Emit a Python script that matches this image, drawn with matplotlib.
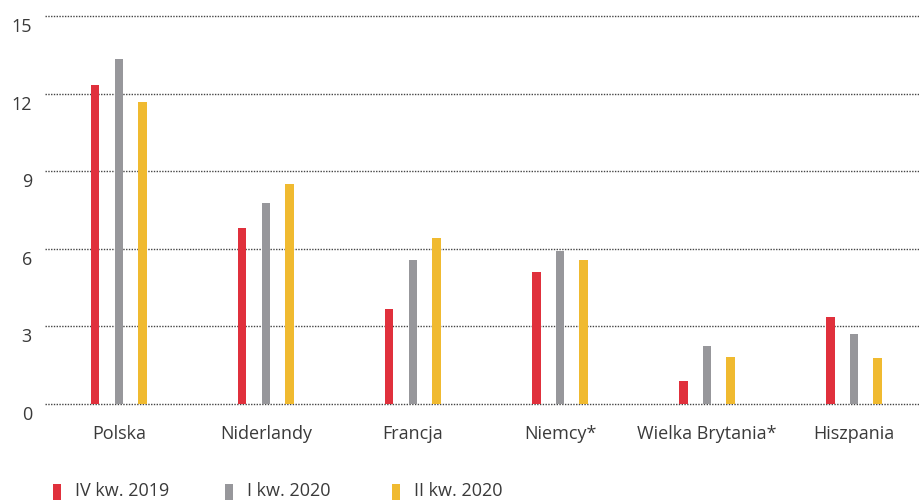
import matplotlib
matplotlib.use("Agg")
import matplotlib.pyplot as plt
from matplotlib.patches import Rectangle
from matplotlib.transforms import ScaledTranslation
import numpy as np

categories = ["Polska", "Niderlandy", "Francja", "Niemcy*", "Wielka Brytania*", "Hiszpania"]
series_names = ["IV kw. 2019", "I kw. 2020", "II kw. 2020"]
q4_2019 = [12.35, 6.80, 3.68, 5.10, 0.89, 3.36]
q1_2020 = [13.32, 7.77, 5.55, 5.92, 2.25, 2.70]
q2_2020 = [11.68, 8.52, 6.40, 5.55, 1.81, 1.77]
yticks = [0, 3, 6, 9, 12, 15]
colors = ["#E0303C", "#97979B", "#F0BA30"]

plt.rcParams['font.family'] = ['Open Sans', 'DejaVu Sans']
text_color = "#3a3a3a"
fs = 13

fig = plt.figure(figsize=(9.19, 5.0), dpi=100)
ax = fig.add_axes([45/919, 96/500, 1 - 45/919, (404-16)/500])

x = np.arange(len(categories))
offset = 0.16
width = 0.055
for i, (vals, c) in enumerate(zip([q4_2019, q1_2020, q2_2020], colors)):
    ax.bar(x + (i - 1) * offset, vals, width=width, color=c, zorder=3)

ax.set_ylim(0, 15)
ax.set_xlim(-0.503, 5.442)
ax.set_yticks(yticks)
ax.set_yticklabels([])
trans = ax.get_yaxis_transform() + ScaledTranslation(-13/100, -11/100, fig.dpi_scale_trans)
for t in yticks:
    ax.text(0, t, str(t), transform=trans, ha='right', va='center',
            fontsize=fs, color=text_color, clip_on=False)
ax.set_xticks(x)
ax.set_xticklabels(categories, fontsize=fs, color=text_color)
ax.tick_params(axis='both', length=0)
ax.tick_params(axis='x', pad=15)
for t in yticks:
    ax.axhline(t, color="#444444", linewidth=1, linestyle=(0, (1, 1)), zorder=1, clip_on=False)
for s in ax.spines.values():
    s.set_visible(False)

# legend
leg_x = [53, 225, 392]
for lx, name, c in zip(leg_x, series_names, colors):
    fig.patches.append(Rectangle((lx/919, 0), 8/919, 16/500, transform=fig.transFigure,
                                 facecolor=c, edgecolor='none'))
    fig.text((lx + 22)/919, 1 - 491/500, name, fontsize=fs, color=text_color,
             va='center', ha='left')

fig.savefig("out.png", dpi=100)
